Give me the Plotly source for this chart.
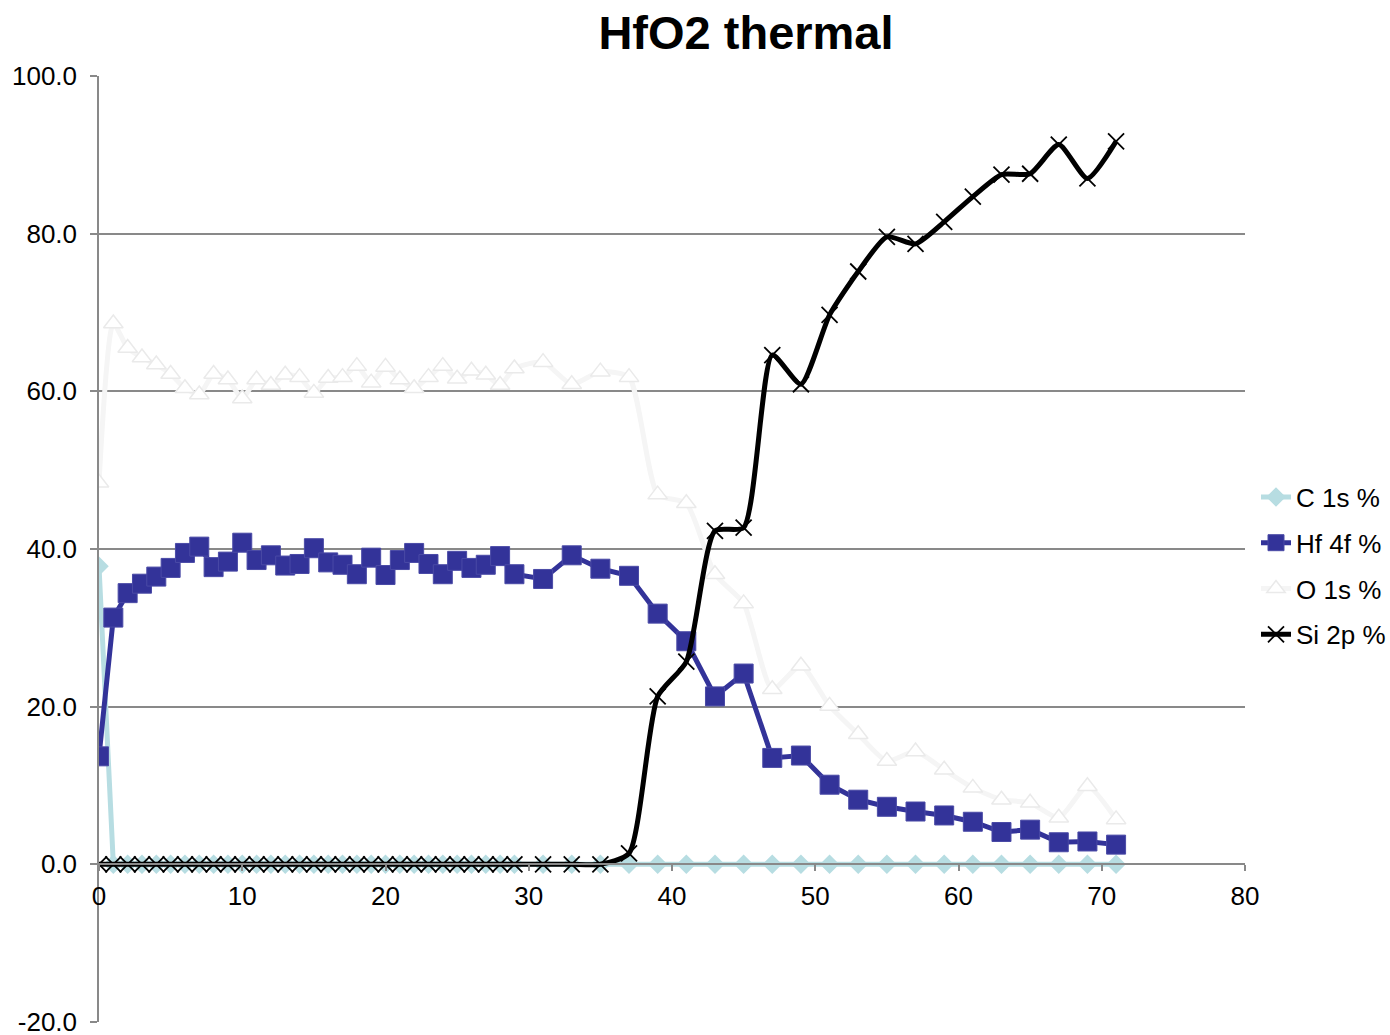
import plotly.graph_objects as go

x_depth = [0, 1, 2, 3, 4, 5, 6, 7, 8, 9, 10, 11, 12, 13, 14, 15, 16, 17, 18, 19,
           20, 21, 22, 23, 24, 25, 26, 27, 28, 29, 31, 33, 35, 37, 39, 41, 43, 45,
           47, 49, 51, 53, 55, 57, 59, 61, 63, 65, 67, 69, 71]

c_1s = [37.8, 0, 0, 0, 0, 0, 0, 0, 0, 0, 0, 0, 0, 0, 0, 0, 0, 0, 0, 0,
        0, 0, 0, 0, 0, 0, 0, 0, 0, 0, 0, 0, 0, 0, 0, 0, 0, 0,
        0, 0, 0, 0, 0, 0, 0, 0, 0, 0, 0, 0, 0]

hf_4f = [13.7, 31.3, 34.4, 35.6, 36.5, 37.6, 39.5, 40.3, 37.7, 38.4, 40.8, 38.6, 39.2, 37.9,
         38.1, 40.1, 38.3, 38.0, 36.8, 38.9, 36.7, 38.6, 39.5, 38.1, 36.8, 38.5, 37.6, 38.0,
         39.1, 36.8, 36.2, 39.2, 37.5, 36.6, 31.8, 28.3, 21.3, 24.2, 13.5, 13.8, 10.1, 8.2,
         7.3, 6.7, 6.2, 5.4, 4.1, 4.4, 2.8, 2.9, 2.5]

o_1s = [48.4, 68.6, 65.5, 64.3, 63.4, 62.2, 60.4, 59.6, 62.2, 61.5, 59.1, 61.5, 60.8, 62.1,
        61.8, 59.8, 61.7, 61.8, 63.2, 61.1, 63.1, 61.5, 60.4, 61.8, 63.2, 61.6, 62.6, 62.1,
        60.8, 62.9, 63.7, 60.9, 62.5, 61.8, 46.9, 45.8, 36.8, 33.1, 22.2, 25.2, 20.1, 16.5,
        13.1, 14.3, 12.0, 9.7, 8.2, 7.8, 5.9, 9.9, 5.7]

si_2p = [0, 0, 0, 0, 0, 0, 0, 0, 0, 0, 0, 0, 0, 0, 0, 0, 0, 0, 0, 0,
         0, 0, 0, 0, 0, 0, 0, 0, 0, 0, 0, 0, 0, 1.4, 21.3, 25.7, 42.3, 42.7,
         64.6, 60.9, 69.7, 75.2, 79.6, 78.7, 81.5, 84.7, 87.5, 87.6, 91.3, 87.0, 91.7]

y_ticks = [-20, 0, 20, 40, 60, 80, 100]
x_ticks = [0, 10, 20, 30, 40, 50, 60, 70, 80]

FONT = "Liberation Sans, Arial, sans-serif"
GRID = "#898989"

fig = go.Figure()

fig.add_trace(go.Scatter(
    x=x_depth, y=c_1s, name="C 1s %", mode="lines+markers", legendgroup="c",
    line=dict(color="#B7DDE2", width=5),
    marker=dict(symbol="diamond", size=15, color="#B7DDE2"),
))
fig.add_trace(go.Scatter(
    x=x_depth, y=hf_4f, name="Hf 4f %", mode="lines+markers", legendgroup="hf",
    line=dict(color="#333399", width=5),
    marker=dict(symbol="square", size=19, color="#333399",
                line=dict(color="#4A4AA6", width=1)),
))
fig.add_trace(go.Scatter(
    x=x_depth, y=o_1s, name="O 1s %", mode="lines+markers", legendgroup="o",
    line=dict(color="#F5F5F5", width=5, shape="spline", smoothing=0.6),
    marker=dict(symbol="triangle-up", size=17, color="#FFFFFF",
                line=dict(color="#EAEAEA", width=1.5)),
))
fig.add_trace(go.Scatter(
    x=x_depth, y=si_2p, name="Si 2p %", mode="lines+markers", legendgroup="si",
    line=dict(color="#000000", width=5, shape="spline", smoothing=0.6),
    marker=dict(symbol="x-thin", size=16, color="#000000",
                line=dict(color="#000000", width=1.8)),
))

fig.update_layout(
    width=1390, height=1035,
    margin=dict(l=99, r=145, t=76, b=13, autoexpand=False),
    paper_bgcolor="white", plot_bgcolor="white",
    font=dict(family=FONT, size=26, color="#000000"),
    title=dict(text="<b>HfO2 thermal</b>", font=dict(family=FONT, size=47, color="#000000"),
               x=746 / 1390, xref="container", xanchor="center", y=0.969, yref="container",
               yanchor="middle"),
    showlegend=True,
    legend=dict(x=1256 / 1390, xref="container", xanchor="left",
                y=1 - 566 / 1035, yref="container", yanchor="middle",
                font=dict(family=FONT, size=26), tracegroupgap=9,
                bgcolor="rgba(0,0,0,0)"),
    xaxis=dict(range=[0, 80], tickvals=x_ticks, ticktext=[str(v) for v in x_ticks],
               showgrid=False, zeroline=False, showline=True, linecolor=GRID, linewidth=1.5,
               ticks="outside", ticklen=6, tickcolor=GRID, tickwidth=1.5,
               anchor="free", position=20 / 120, ticklabelstandoff=3,
               tickfont=dict(family=FONT, size=26), automargin=False),
    yaxis=dict(range=[-20, 100], tickvals=y_ticks, ticktext=[f"{v:.1f}" for v in y_ticks],
               showgrid=True, gridcolor=GRID, gridwidth=1.5, zeroline=False,
               showline=True, linecolor=GRID, linewidth=1.5,
               ticks="outside", ticklen=7, tickcolor=GRID, tickwidth=1.5,
               ticklabelstandoff=8, ticklabeloverflow="allow",
               tickfont=dict(family=FONT, size=26), automargin=False),
)

fig.write_html(
    "out.html",
    config={"displayModeBar": False},
    post_script="document.body.style.margin='0';document.body.style.padding='0';"
                "document.body.style.overflow='hidden';",
)
